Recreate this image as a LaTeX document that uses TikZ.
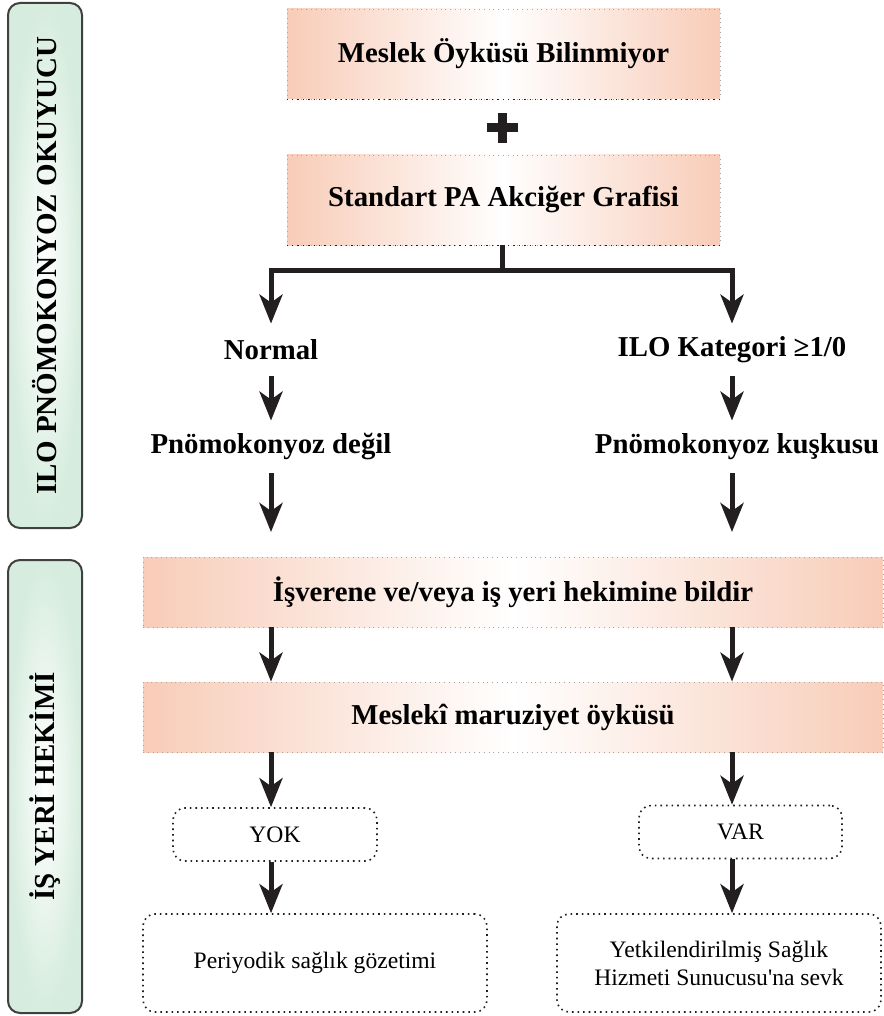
\documentclass[tikz,border=0pt]{standalone}
\usepackage{fontspec}
\setmainfont{Liberation Serif}[Ligatures=TeXOff]
\usepackage{tikz}
\usetikzlibrary{arrows.meta, shapes, backgrounds, calc}
\definecolor{somon}{RGB}{248,204,184}
\definecolor{yesil}{RGB}{214,236,222}
\definecolor{koyu}{RGB}{35,31,32}

\tikzset{
    panel/.style = {rectangle, rounded corners = 6pt, draw = black!75, line width = 1pt, inner color = white, outer color = yesil, rotate = 90, minimum height = 37pt, font = \bfseries\fontsize{14.5}{16}\selectfont},
    genis/.style = {rectangle, draw = gray!70, dotted, left color = somon, right color = somon, middle color = white, font = \bfseries\fontsize{14.4}{16}\selectfont},
    etiket/.style = {font = \bfseries\fontsize{14.4}{16}\selectfont, minimum height = 26pt},
    kutu/.style = {rectangle, rounded corners = 6pt, draw = koyu, dotted, line width = 0.8pt, font = \fontsize{11.8}{14}\selectfont, align = center},
    ok/.style = {draw = koyu, line width = 2.5pt, -{Stealth[length = 14.5pt, width = 11.5pt, inset = 4pt]}},
    cizgi/.style = {draw = koyu, line width = 2.5pt}
}

\begin{document}
\begin{tikzpicture}[x = 0.5pt, y = -0.5pt]
        \useasboundingbox (0,0) rectangle (883,1016);

        \node (okuyucu) [panel, minimum width = 262.5pt] at (45,265.5) {ILO PNÖMOKONYOZ OKUYUCU};
        \node (hekim) [panel, minimum width = 226.5pt] at (45,786.5) {İŞ YERİ HEKİMİ};

        \node (oyku) [genis, minimum width = 216.5pt, minimum height = 45pt] at (503.5,54) {Meslek Öyküsü Bilinmiyor};
        \node (grafi) [genis, minimum width = 216.5pt, minimum height = 45pt] at (503.5,200) {Standart PA Akciğer Grafisi};
        \foreach \k in {oyku, grafi}
        {
            \draw [dotted, koyu, line width = 0.7pt] (\k.south west) -- (\k.south east);
        }

        \coordinate (arti) at (502,128);
        \draw [cizgi, line width = 4.5pt] ([xshift = -7.75pt]arti) -- ([xshift = 7.75pt]arti);
        \draw [cizgi, line width = 4.5pt] ([yshift = -7.5pt]arti) -- ([yshift = 7.5pt]arti);

        \coordinate (catal) at (502,270);
        \coordinate (sol) at (271,0);
        \coordinate (sag) at (732,0);

        \node (normal) [etiket] at (271,350) {Normal};
        \node (ilo) [etiket] at (732,350) {ILO Kategori ≥1/0};
        \node (degil) [etiket] at (271,447) {Pnömokonyoz değil};
        \node (kusku) [etiket] at (737,447) {Pnömokonyoz kuşkusu};
        \coordinate (degiluc) at (271,532);
        \coordinate (kuskuuc) at (732,532);

        \draw [cizgi] (grafi.south -| catal) -- (catal);
        \draw [ok] (catal) -| (normal.north);
        \draw [ok] (catal) -| (ilo.north);
        \draw [ok] (normal) -- (degil);
        \draw [ok] (ilo) -- (kusku.north -| sag);
        \draw [ok] (degil) -- (degiluc);
        \draw [ok] (kusku.south -| sag) -- (kuskuuc);

        \node (isveren) [genis, minimum width = 370pt, minimum height = 35pt] at (513,592) {İşverene ve/veya iş yeri hekimine bildir};
        \node (maruz) [genis, minimum width = 370pt, minimum height = 35pt] at (513,717) {Meslekî maruziyet öyküsü};

        \node (yok) [kutu, minimum width = 102pt, minimum height = 26.5pt] at (275,834.5) {YOK};
        \node (var) [kutu, minimum width = 101.5pt, minimum height = 26.5pt] at (740.5,832) {VAR};
        \node (gozetim) [kutu, minimum width = 172pt, minimum height = 49pt] at (315,963) {Periyodik sağlık gözetimi};
        \node (sevk) [kutu, minimum width = 162pt, minimum height = 49pt] at (719,963) {Yetkilendirilmiş Sağlık\\Hizmeti Sunucusu'na sevk};

        \foreach \a/\b/\c in {isveren/maruz/sol, isveren/maruz/sag, maruz/yok/sol, maruz/var/sag, yok/gozetim/sol, var/sevk/sag}
        {
            \draw [ok] (\a.south -| \c) -- (\b.north -| \c);
        }
    \end{tikzpicture}
\end{document}
